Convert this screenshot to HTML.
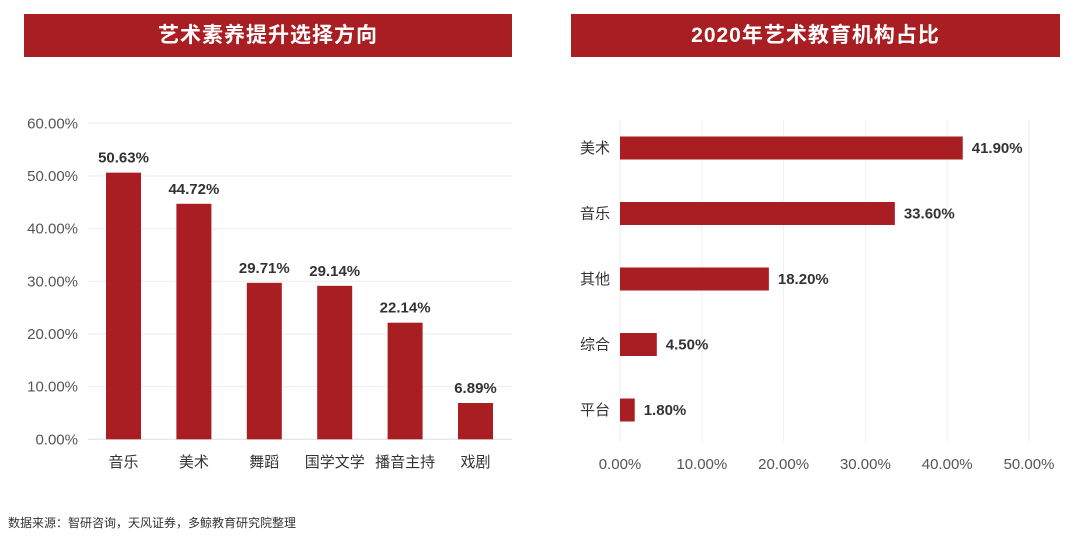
<!DOCTYPE html>
<html><head><meta charset="utf-8"><style>
body{margin:0;background:#fff;width:1080px;height:537px;overflow:hidden;font-family:"Liberation Sans","Noto Sans CJK SC",sans-serif}
.hdr{position:absolute;top:14px;height:43px;background:#a91e22;color:#fff;font-size:21px;font-weight:bold;text-align:center;line-height:43px;letter-spacing:1px}
svg{position:absolute;left:0;top:0}
.src{position:absolute;left:8px;top:514px;font-size:12px;color:#333}
</style></head><body>
<div class="hdr" style="left:24px;width:488px">艺术素养提升选择方向</div>
<div class="hdr" style="left:571px;width:489px">2020年艺术教育机构占比</div>
<svg width="1080" height="537">
<g id="left"></g><g id="right"></g>
</svg>
<div class="src">数据来源：智研咨询，天风证券，多鲸教育研究院整理</div>
<script>
const leftCats=["音乐","美术","舞蹈","国学文学","播音主持","戏剧"];
const leftVals=[50.63,44.72,29.71,29.14,22.14,6.89];
const leftTicks=[0,10,20,30,40,50,60];
const rightCats=["美术","音乐","其他","综合","平台"];
const rightVals=[41.9,33.6,18.2,4.5,1.8];
const rightTicks=[0,10,20,30,40,50];
const NS="http://www.w3.org/2000/svg";
const RED="#a91e22";
function mk(parent,tag,attrs,text){const e=document.createElementNS(NS,tag);for(const k in attrs)e.setAttribute(k,attrs[k]);if(text!==undefined)e.textContent=text;parent.appendChild(e);return e;}
const L=document.getElementById('left');
const ly=v=>439.3-v*(439.3-123.3)/60;
const lx=i=>123.5+i*70.4;
leftTicks.forEach(t=>{
 const g=mk(L,'line',{x1:88,x2:512,y1:ly(t),y2:ly(t),stroke:t===0?'#ddd':'#eee','stroke-width':1});
 
 const tx=mk(L,'text',{x:78,y:ly(t)+5,'text-anchor':'end','font-size':15,fill:'#555'},t.toFixed(2)+'%');
 
});
leftCats.forEach((c,i)=>{
 const v=leftVals[i];
 const r=mk(L,'rect',{x:lx(i)-17.5,y:ly(v),width:35,height:ly(0)-ly(v),fill:RED});
 
 const vl=mk(L,'text',{x:lx(i),y:ly(v)-10,'text-anchor':'middle','font-size':15,'font-weight':'bold',fill:'#333'},v.toFixed(2)+'%');
 
 const cl=mk(L,'text',{x:lx(i),y:467,'text-anchor':'middle','font-size':15,fill:'#333'},c);
 
});
const R=document.getElementById('right');
const rx=v=>620+v*(1029-620)/50;
const ry=i=>148+i*65.5;
rightTicks.forEach(t=>{
 const g=mk(R,'line',{x1:rx(t),x2:rx(t),y1:120,y2:442,stroke:'#eee','stroke-width':1});
 
 const tx=mk(R,'text',{x:rx(t),y:469,'text-anchor':'middle','font-size':15,fill:'#555'},t.toFixed(2)+'%');
 
});
rightCats.forEach((c,i)=>{
 const v=rightVals[i];
 const r=mk(R,'rect',{x:rx(0),y:ry(i)-11.5,width:rx(v)-rx(0),height:23,fill:RED});
 
 const vl=mk(R,'text',{x:rx(v)+9,y:ry(i)+5,'font-size':15,'font-weight':'bold',fill:'#333'},v.toFixed(2)+'%');
 
 const cl=mk(R,'text',{x:610,y:ry(i)+5,'text-anchor':'end','font-size':15,fill:'#333'},c);
 
});
</script>
</body></html>
